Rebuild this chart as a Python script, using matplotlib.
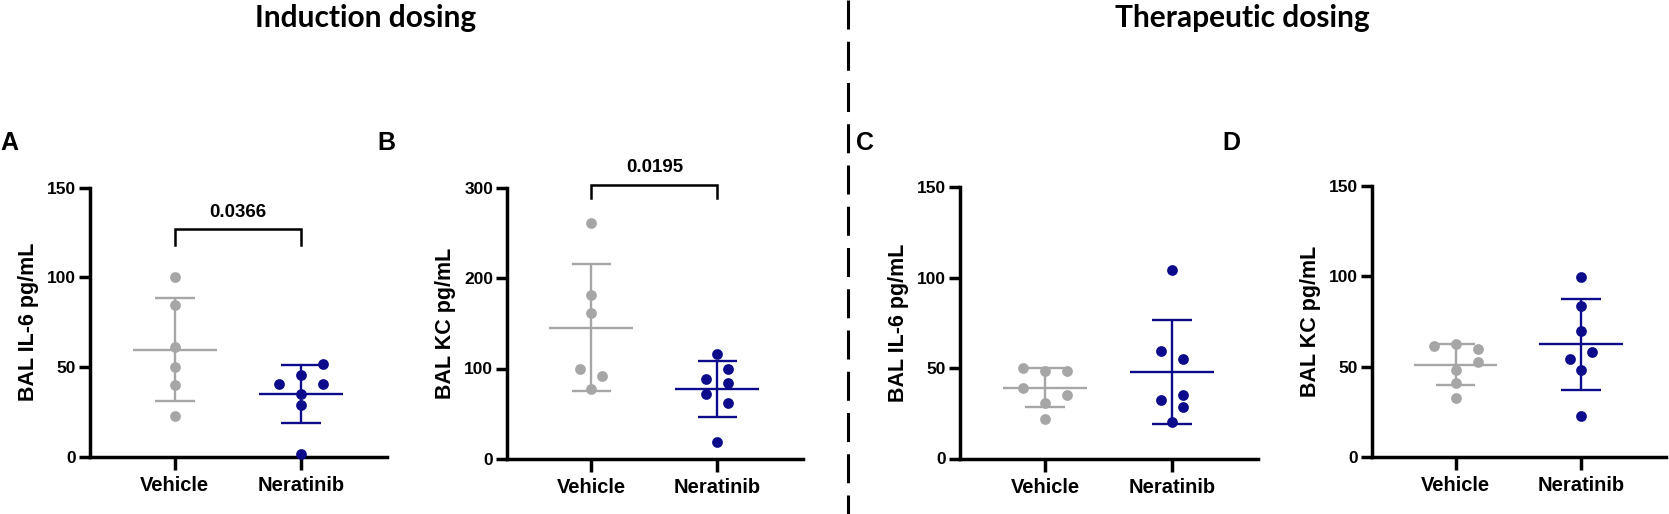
import numpy as np
import matplotlib.pyplot as plt
from matplotlib.lines import Line2D

plt.rcParams['font.family'] = ['Liberation Sans', 'DejaVu Sans']
plt.rcParams['font.weight'] = 'bold'

# data (pg/mL)
groups = ['Vehicle', 'Neratinib']
a_vehicle = [100, 84.6, 61.3, 50.2, 39.8, 22.9]
a_neratinib = [51.7, 45.5, 40.9, 40.9, 35.3, 29.2, 1.9]
b_vehicle = [260.7, 180.7, 161.2, 99.9, 91.8, 77.1]
b_neratinib = [115.7, 99.9, 88.9, 83.7, 72.3, 62.4, 18.4]
c_vehicle = [50.1, 48.6, 48.6, 38.9, 35.4, 30.8, 21.9]
c_neratinib = [104.5, 59.7, 55.1, 32.6, 35.4, 28.6, 20.1]
d_vehicle = [61.4, 62.7, 59.9, 52.5, 47.9, 40.9, 32.8]
d_neratinib = [99.9, 83.5, 69.5, 58.0, 54.4, 48.3, 22.5]

panel_letters = ['A', 'B', 'C', 'D']
ylabels = ['BAL IL-6 pg/mL', 'BAL KC pg/mL', 'BAL IL-6 pg/mL', 'BAL KC pg/mL']
ymax = [150, 300, 150, 150]
ystep = [50, 100, 50, 50]
pvalues = ['0.0366', '0.0195', None, None]
headers = ['Induction dosing', 'Therapeutic dosing']

# swarm column index of each dot (layout only)
a_cols = ([0, 0, 0, 0, 0, 0], [2, 0, -2, 2, 0, 0, 0])
b_cols = ([0, 0, 0, -1, 1, 0], [0, 1, -1, 1, -1, 1, 0])
c_cols = ([-2, 0, 2, -2, 2, 0, 0], [0, -1, 1, -1, 1, 1, 0])
d_cols = ([-2, 0, 2, 2, 0, 0, 0], [0, 0, 0, 1, -1, 0, 0])
# bracket top / drop / text baseline in data units
brackets = [(127, 118, 133.5), (303, 288.6, 317), None, None]

panels = [(a_vehicle, a_neratinib), (b_vehicle, b_neratinib),
          (c_vehicle, c_neratinib), (d_vehicle, d_neratinib)]
cols_all = [a_cols, b_cols, c_cols, d_cols]

colors = ['#a6a6a6', '#0b0b8c']
W, H = 1669, 514
# axes boxes in pixels: left, right, top, bottom
boxes = [(90, 387, 187.5, 457), (507, 803, 187.5, 459),
         (960, 1258, 187.5, 458.5), (1372, 1666, 186, 457)]
letter_x = [0, 377, 856, 1222]

fig = plt.figure(figsize=(W / 100, H / 100), dpi=100)

for k in range(4):
    l, r, t, b = boxes[k]
    ax = fig.add_axes([l / W, (H - b) / H, (r - l) / W, (b - t) / H])
    for i, vals in enumerate(panels[k]):
        vals = np.array(vals)
        x = i + np.array(cols_all[k][i]) * 0.087
        m = vals.mean()
        sd = vals.std(ddof=1)
        ax.scatter(x, vals, s=60, color=colors[i], zorder=3, clip_on=False, linewidths=0)
        ax.hlines(m, i - 0.333, i + 0.333, color=colors[i], lw=1.7, zorder=2)
        ax.vlines(i, m - sd, m + sd, color=colors[i], lw=1.7, zorder=2)
        ax.hlines([m - sd, m + sd], i - 0.157, i + 0.157, color=colors[i], lw=1.7, zorder=2)

    ax.set_xlim(-0.67, 1.68)
    ax.set_ylim(0, ymax[k])
    ax.set_yticks(np.arange(0, ymax[k] + 1, ystep[k]))
    ax.set_xticks([0, 1])
    ax.set_xticklabels(groups)
    for s in ['top', 'right']:
        ax.spines[s].set_visible(False)
    for s in ['left', 'bottom']:
        ax.spines[s].set_linewidth(2.5)
    ax.tick_params(axis='y', length=8, width=2.5, pad=2, labelsize=12.5)
    ax.tick_params(axis='x', length=9, width=2.5, pad=5, labelsize=14.5)
    ax.set_ylabel(ylabels[k], fontsize=15.5, fontweight='bold', labelpad=6)

    if brackets[k] is not None:
        top, drop, ty = brackets[k]
        ax.plot([0, 0, 1, 1], [drop, top, top, drop], color='black', lw=1.8,
                clip_on=False, solid_joinstyle='miter')
        ax.text(0.5, ty, pvalues[k], ha='center', va='baseline', fontsize=13.5,
                fontweight='bold')

    fig.text(letter_x[k] / W, (H - 150) / H, panel_letters[k], fontsize=18,
             fontweight='bold', ha='left', va='baseline')

fig.text(366 / W, (H - 27) / H, headers[0], family=['Lato', 'DejaVu Sans'],
         fontsize=21.5, fontweight='bold', ha='center', va='baseline')
fig.text(1242 / W, (H - 27) / H, headers[1], family=['Lato', 'DejaVu Sans'],
         fontsize=21.5, fontweight='bold', ha='center', va='baseline')

fig.add_artist(Line2D([848 / W, 848 / W], [1, 0], transform=fig.transFigure,
                      color='black', lw=2.2, linestyle=(0, (9.5, 4))))

fig.savefig('out.png', dpi=100)
